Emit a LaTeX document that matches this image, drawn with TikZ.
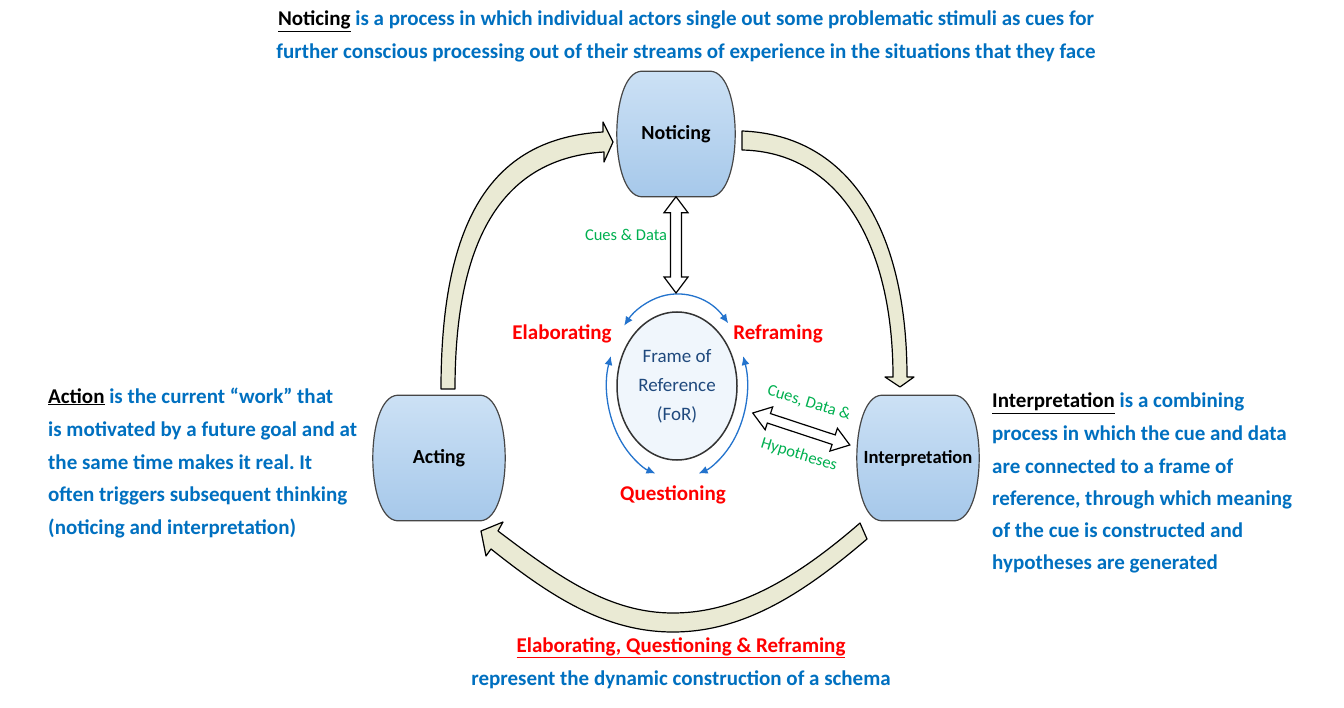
\documentclass[tikz,border=0pt]{standalone}
\usepackage{fontspec}
\setmainfont{Carlito}
\frenchspacing
\usetikzlibrary{calc,arrows.meta,backgrounds,shapes.geometric}
\definecolor{tblue}{RGB}{0,112,192}
\definecolor{tgreen}{RGB}{0,176,80}
\definecolor{tred}{RGB}{255,0,0}
\definecolor{fordark}{RGB}{31,73,125}
\definecolor{arcblue}{RGB}{35,115,205}
\definecolor{olivefill}{RGB}{234,234,212}
\definecolor{btop}{RGB}{204,225,245}
\definecolor{bbot}{RGB}{166,200,234}
\definecolor{forfill}{RGB}{240,246,252}
\definecolor{barrelline}{RGB}{70,70,70}

\newcommand{\barrelpath}[1]{%
 \path[draw=barrelline, line width=1.2pt, top color=btop, bottom color=bbot]
  ($(#1.north west)+(24,0)$) -- ($(#1.north east)+(-24,0)$)
  .. controls ($(#1.north east)+(8,3)$) and ($(#1.south east)+(8,-3)$) .. ($(#1.south east)+(-24,0)$)
  -- ($(#1.south west)+(24,0)$)
  .. controls ($(#1.south west)+(-8,-3)$) and ($(#1.north west)+(-8,3)$) .. cycle;}

\newcommand{\hdarrow}[5]{%
 \draw[hollow] (#1)
 -- ($($(#1)!#5!(#2)$)!#4!90:(#2)$)
 -- ($($(#1)!#5!(#2)$)!#3!90:(#2)$)
 -- ($($(#2)!#5!(#1)$)!#3!-90:(#1)$)
 -- ($($(#2)!#5!(#1)$)!#4!-90:(#1)$)
 -- (#2)
 -- ($($(#2)!#5!(#1)$)!#4!90:(#1)$)
 -- ($($(#2)!#5!(#1)$)!#3!90:(#1)$)
 -- ($($(#1)!#5!(#2)$)!#3!-90:(#2)$)
 -- ($($(#1)!#5!(#2)$)!#4!-90:(#2)$)
 -- cycle;}

\begin{document}
\begin{tikzpicture}[x=1pt,y=-1pt,
  txt/.style={inner sep=0pt, font=\fontsize{21}{33}\selectfont\bfseries, text=tblue},
  lbl/.style={inner sep=0pt, draw=none, font=\fontsize{20}{24}\selectfont\bfseries, text=black},
  redlbl/.style={inner sep=0pt, font=\fontsize{21}{24}\selectfont\bfseries, text=tred},
  greenlbl/.style={inner sep=0pt, font=\fontsize{16.5}{20}\selectfont, text=tgreen},
  blockarrow/.style={draw=black, line width=1.2pt, fill=olivefill, line join=round},
  hollow/.style={draw=black, line width=1.2pt, fill=white, line join=miter},
  arcline/.style={draw=arcblue, line width=1.3pt, {Latex[length=9pt,width=8pt]}-{Latex[length=9pt,width=8pt]}},
]
\useasboundingbox (0,0) rectangle (1344,708);

% process nodes
\node[lbl, minimum width=118, minimum height=125] (noticing) at (676,134) {Noticing};
\node[lbl, minimum width=132, minimum height=125] (acting) at (439,458) {Acting};
\node[lbl, minimum width=122, minimum height=125, font=\fontsize{18.6}{22}\selectfont\bfseries] (interp) at (918,458) {Interpretation};

\begin{pgfonlayer}{background}
 \fill[white] (0,0) rectangle (1344,708);
 \barrelpath{noticing}
 \barrelpath{acting}
 \barrelpath{interp}
\end{pgfonlayer}

% frame of reference
\node[ellipse, draw=black!80, line width=1.5pt, fill=forfill, minimum width=120, minimum height=148,
      inner sep=0pt, align=center, font=\fontsize{19}{29}\selectfont, text=fordark] (for) at (677,386)
      {Frame of\\Reference\\(FoR)};

% blue double-headed arcs
\draw[arcline] ($(for.center)+(43:70pt and 92pt)$) arc[start angle=43, end angle=139, x radius=70pt, y radius=92pt];
\draw[arcline] ($(for.center)+(161:70pt and 92pt)$) arc[start angle=161, end angle=252, x radius=70pt, y radius=92pt];
\draw[arcline] ($(for.center)+(19:70pt and 92pt)$) arc[start angle=19, end angle=-72, x radius=70pt, y radius=92pt];

\node[redlbl] (elab) at (562,334) {Elaborating};
\node[redlbl] (refr) at (778,334) {Reframing};
\node[redlbl] (ques) at (673,495) {Questioning};

% hollow double arrows
\coordinate (cdbot) at (676,293);
\hdarrow{noticing.south}{cdbot}{5.5pt}{12pt}{16pt}
\node[greenlbl] (cd) at (626,235) {Cues \& Data};

\coordinate (d1) at ($(for.east)+(15,27)$);
\coordinate (d2) at ($(interp.west)+(-7,-13)$);
\hdarrow{d1}{d2}{5pt}{12pt}{17pt}
\node[greenlbl, rotate=-17] (cdh1) at (809,403) {Cues, Data \&};
\node[greenlbl, rotate=-17] (cdh2) at (799,455) {Hypotheses};

% big curved block arrows
\draw[blockarrow] (441,389) .. controls (441,215) and (495,138) .. (603,132) -- (603,122) -- (613,142) -- (604,162) -- (604,152)
   .. controls (505,158) and (455,235) .. (455,389) -- cycle;
\draw[blockarrow] (742,131) .. controls (850,135) and (907,230) .. (907,377) -- (914,377) -- (900,387) -- (885,377) -- (893,377)
   .. controls (893,245) and (840,152) .. (742,150) -- cycle;
\draw[blockarrow] (860,523) .. controls (800,575) and (740,613) .. (673,613) .. controls (610,613) and (560,578) .. (498,531)
   -- (503,522) -- (481,531) -- (486,556) -- (491,549)
   .. controls (550,596) and (605,632) .. (673,632) .. controls (745,632) and (805,592) .. (867,539) -- cycle;

% texts
\node[txt, anchor=base] (top1) at (686,26) {\textcolor{black}{\underline{Noticing}} is a process in which individual actors single out some problematic stimuli as cues for};
\node[txt, anchor=base] (top2) at (686,59) {further conscious processing out of their streams of experience in the situations that they face};

\node[txt, anchor=base west] (a1) at (48,403) {\textcolor{black}{\underline{Action}} is the current “work” that};
\node[txt, anchor=base west] (a2) at (48,436) {is motivated by a future goal and at};
\node[txt, anchor=base west] (a3) at (48,469) {the same time makes it real. It};
\node[txt, anchor=base west] (a4) at (48,501) {often triggers subsequent thinking};
\node[txt, anchor=base west] (a5) at (48,534) {(noticing and interpretation)};

\node[txt, anchor=base west] (i1) at (992,408) {\textcolor{black}{\underline{Interpretation}} is a combining};
\node[txt, anchor=base west] (i2) at (992,440) {process in which the cue and data};
\node[txt, anchor=base west] (i3) at (992,473) {are connected to a frame of};
\node[txt, anchor=base west] (i4) at (992,505) {reference, through which meaning};
\node[txt, anchor=base west] (i5) at (992,537) {of the cue is constructed and};
\node[txt, anchor=base west] (i6) at (992,569) {hypotheses are generated};

\node[txt, anchor=base, text=tred] (b1) at (681,652) {\underline{Elaborating, Questioning \& Reframing}};
\node[txt, anchor=base] (b2) at (681,685) {represent the dynamic construction of a schema};
\end{tikzpicture}
\end{document}
